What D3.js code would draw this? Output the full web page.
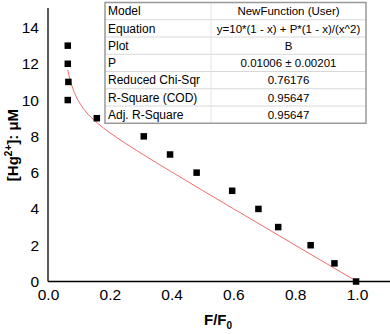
<!DOCTYPE html>
<html><head><meta charset="utf-8">
<script src="https://cdn.jsdelivr.net/npm/d3@7"></script>
<style>body{margin:0;background:#fff}svg{display:block}</style>
</head><body>
<svg id="c" width="390" height="334"></svg>
<script>
const pointX = [0.064, 0.064, 0.066, 0.064, 0.158, 0.310, 0.395, 0.481, 0.596, 0.681, 0.745, 0.850, 0.927, 0.997];
const pointY = [13, 12, 11, 10, 9, 8, 7, 6, 5, 4, 3, 2, 1, 0];
const fitX = [0.064, 0.07, 0.08, 0.09, 0.10, 0.12, 0.14, 0.16, 0.20, 0.25, 0.30, 0.40, 0.50, 0.60, 0.70, 0.80, 0.90, 1.00];
const fitY = [11.66, 11.21, 10.65, 10.23, 9.91, 9.41, 9.04, 8.73, 8.20, 7.62, 7.08, 6.04, 5.02, 4.01, 3.01, 2.00, 1.00, 0];
const xTicks = [0, 0.2, 0.4, 0.6, 0.8, 1.0];
const yTicks = [0, 2, 4, 6, 8, 10, 12, 14];
const tableLabels = ["Model", "Equation", "Plot", "P", "Reduced Chi-Sqr", "R-Square (COD)", "Adj. R-Square"];
const tableValues = ["NewFunction (User)", "y=10*(1 - x) + P*(1 - x)/(x^2)", "B", "0.01006 \u00b1 0.00201", "0.76176", "0.95647", "0.95647"];

const svg = d3.select("#c");
const font = "Liberation Sans, Arial, sans-serif";
const x = d3.scaleLinear().domain([0, 1]).range([48, 357]);
const y = d3.scaleLinear().domain([0, 14]).range([281.5, 27.5]);

// axes lines
svg.append("line").attr("x1", 48).attr("x2", 390).attr("y1", 281.5).attr("y2", 281.5)
  .attr("stroke", "#000").attr("stroke-width", 1.3);
svg.append("line").attr("x1", 48).attr("x2", 48).attr("y1", 8).attr("y2", 281.5)
  .attr("stroke", "#000").attr("stroke-width", 1.3);

const xAxis = d3.axisBottom(x).tickValues(xTicks).tickFormat(d3.format(".1f")).tickSize(0).tickPadding(0);
const gx = svg.append("g").attr("transform", "translate(0,289)").call(xAxis);
gx.select(".domain").remove();
gx.selectAll("text").attr("font-family", font).attr("font-size", 15.5).attr("fill", "#000").attr("dy", "0.71em");

const yAxis = d3.axisLeft(y).tickValues(yTicks).tickFormat(d3.format("d")).tickSize(0).tickPadding(0);
const gy = svg.append("g").attr("transform", "translate(39,0)").call(yAxis);
gy.select(".domain").remove();
gy.selectAll("text").attr("font-family", font).attr("font-size", 15.5).attr("fill", "#000");

// axis titles
const yl = svg.append("text").attr("transform", "translate(18,145) rotate(-90)")
  .attr("text-anchor", "middle").attr("font-family", font).attr("font-size", 15).attr("font-weight", "bold");
yl.append("tspan").text("[Hg");
yl.append("tspan").text("2+").attr("font-size", 10).attr("dy", -6);
yl.append("tspan").text("]: \u03bcM").attr("dy", 6);

const xl = svg.append("text").attr("x", 204).attr("y", 325)
  .attr("font-family", font).attr("font-size", 15).attr("font-weight", "bold");
xl.append("tspan").text("F/F");
xl.append("tspan").text("0").attr("font-size", 10).attr("dy", 4);

// fit curve
const line = d3.line().x(d => x(d[0])).y(d => y(d[1])).curve(d3.curveMonotoneX);
svg.append("path").datum(fitX.map((v, i) => [v, fitY[i]]))
  .attr("d", line).attr("fill", "none").attr("stroke", "#f26b6b").attr("stroke-width", 1);

// points
const s = 6.5;
svg.selectAll("rect.pt").data(pointX.map((v, i) => [v, pointY[i]])).enter().append("rect")
  .attr("class", "pt").attr("x", d => x(d[0]) - s / 2).attr("y", d => y(d[1]) - s / 2)
  .attr("width", s).attr("height", s).attr("fill", "#000");

// table
const tX0 = 105, tX1 = 211, tX2 = 366, tY0 = 2.5, rowH = 17.25;
const tg = svg.append("g");
tg.append("rect").attr("x", tX0).attr("y", tY0).attr("width", tX2 - tX0).attr("height", rowH * tableLabels.length).attr("fill", "#fff");
tableLabels.forEach((lab, i) => {
  const yy = tY0 + rowH * i;
  if (i > 0) tg.append("line").attr("x1", tX0).attr("x2", tX2).attr("y1", yy).attr("y2", yy).attr("stroke", "#d8d8d8").attr("stroke-width", 1);
  tg.append("text").attr("x", tX0 + 3).attr("y", yy + rowH / 2).attr("dy", "0.36em")
    .attr("font-family", font).attr("font-size", 12).attr("fill", "#000").text(lab);
  tg.append("text").attr("x", (tX1 + tX2) / 2).attr("y", yy + rowH / 2).attr("dy", "0.36em").attr("text-anchor", "middle")
    .attr("font-family", font).attr("font-size", 11.5).attr("fill", "#000").text(tableValues[i]);
});
tg.append("line").attr("x1", tX1).attr("x2", tX1).attr("y1", tY0).attr("y2", tY0 + rowH * 7).attr("stroke", "#e4e4e4");
tg.append("rect").attr("x", tX0).attr("y", tY0).attr("width", tX2 - tX0).attr("height", rowH * 7)
  .attr("fill", "none").attr("stroke", "#999").attr("stroke-width", 1.5);
</script>
</body></html>
